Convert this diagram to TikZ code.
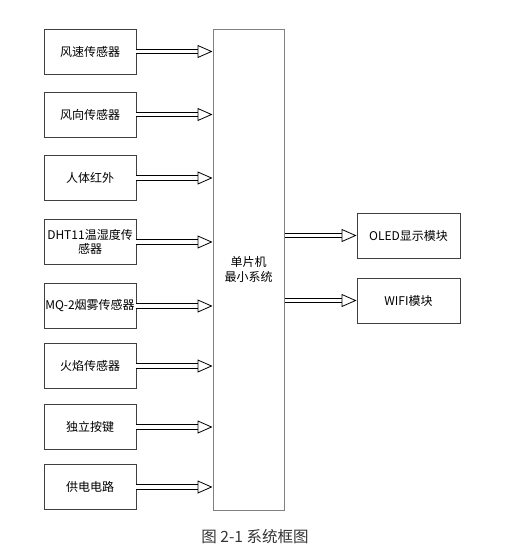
\documentclass[tikz,border=0pt]{standalone}
\usepackage{fontspec}
\setmainfont{Noto Sans CJK SC}
\usetikzlibrary{arrows.meta}

\tikzset{
    blk/.style={draw=black!75,line width=0.9pt,minimum width=92pt,minimum height=45pt,inner sep=1pt,align=center,font=\fontsize{12}{14.5}\selectfont},
    mcu/.style={draw=black!50,line width=1pt,minimum width=71pt,minimum height=481pt,align=center,font=\fontsize{12}{14.5}\selectfont},
    hollow/.style={double=white,draw=black,line width=0.8pt,double distance=3.6pt,-{Triangle[open,length=15pt,width=13pt]}}
}

\begin{document}
\begin{tikzpicture}[x=1pt,y=-1pt]
    \useasboundingbox(0,0)rectangle(508,549);

    \node[mcu](mcu)at(248.5,269.5){单片机\\最小系统};

    \node[blk](ws)at(90,51.5){风速传感器};
    \node[blk](wd)at(90,114.5){风向传感器};
    \node[blk](ir)at(90,178){人体红外};
    \node[blk](dht)at(90,242){DHT11温湿度传\\感器};
    \node[blk](mq)at(90,306){MQ-2烟雾传感器};
    \node[blk](fire)at(90,366){火焰传感器};
    \node[blk](key)at(90,427){独立按键};
    \node[blk](pwr)at(90,487){供电电路};

    \node[blk,minimum width=103pt](oled)at(408.5,235.5){OLED显示模块};
    \node[blk,minimum width=103pt](wifi)at(408.5,300.5){WIFI模块};

    \draw[hollow](ws.east)--(ws.east-|mcu.west);
    \draw[hollow](wd.east)--(wd.east-|mcu.west);
    \draw[hollow](ir.east)--(ir.east-|mcu.west);
    \draw[hollow](dht.east)--(dht.east-|mcu.west);
    \draw[hollow](mq.east)--(mq.east-|mcu.west);
    \draw[hollow](fire.east)--(fire.east-|mcu.west);
    \draw[hollow](key.east)--(key.east-|mcu.west);
    \draw[hollow](pwr.east)--(pwr.east-|mcu.west);

    \draw[hollow](oled.west-|mcu.east)--(oled.west);
    \draw[hollow](wifi.west-|mcu.east)--(wifi.west);

    \node[font=\fontsize{15.5}{18}\selectfont,text=black!80](cap)at(255,537){图 2-1 系统框图};
\end{tikzpicture}
\end{document}
